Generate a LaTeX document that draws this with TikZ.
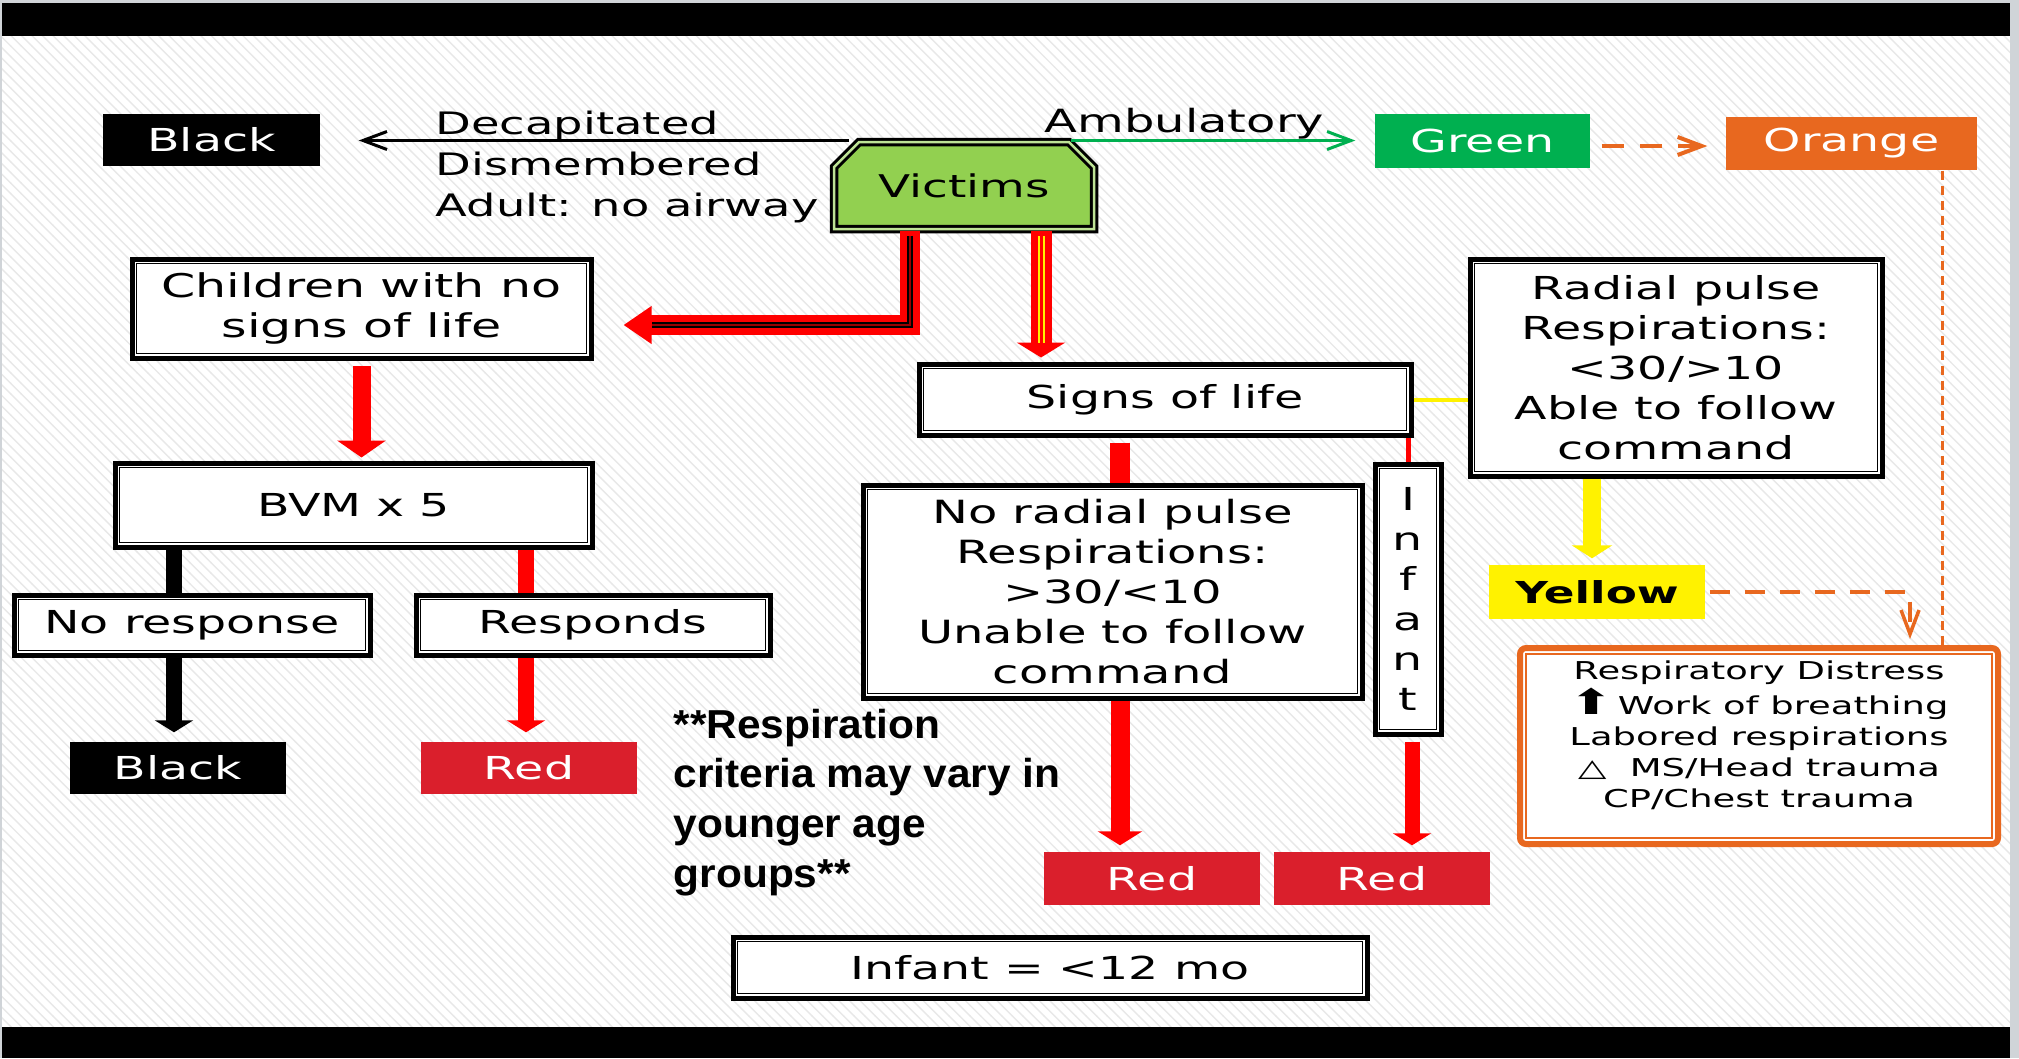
\documentclass[tikz,border=0pt]{standalone}
\usepackage{fontspec}
\setmainfont[FakeStretch=1.5]{DejaVu Sans}
\newfontfamily\notefont[FakeStretch=1.05]{Liberation Sans}
\usetikzlibrary{arrows.meta,shapes.misc,patterns}

\definecolor{tgreen}{HTML}{00B050}
\definecolor{vgreen}{HTML}{92D050}
\definecolor{torange}{HTML}{E8681F}
\definecolor{tred}{HTML}{DA1F2C}
\definecolor{edge}{HTML}{D0D4D8}

\tikzset{
  tag/.style={inner sep=0pt, minimum width=21.6mm, minimum height=5.3mm, text=white, font=\fontsize{9}{11}\selectfont},
  frame/.style={draw=black, line width=0.5mm, fill=white, inner sep=0pt, align=center, font=\fontsize{9}{11.4}\selectfont},
  victim/.style={chamfered rectangle, chamfered rectangle corners={north west,north east},
    chamfered rectangle xsep=2.4mm, chamfered rectangle ysep=1.3mm,
    draw=black, line width=0.3mm, double=vgreen!60!white, double distance=0.25mm, fill=vgreen,
    inner sep=0pt, minimum width=26mm, minimum height=8.7mm, font=\fontsize{8.9}{11}\selectfont},
  warn/.style={draw=torange, line width=0.6mm, rounded corners=0.6mm, fill=white, inner sep=0pt,
    align=center, font=\fontsize{7}{8.8}\selectfont},
  chev/.tip={Straight Barb[length=2.4mm,width=1.8mm]}
}

\begin{document}
\begin{tikzpicture}[x=0.1mm, y=-0.1mm]
\useasboundingbox (0,0) rectangle (2019,1058);
% slide background
\fill[white] (0,0) rectangle (2019,1058);
\fill[pattern=north west lines, pattern color=black!9] (2,36) rectangle (2010,1027);
\fill[black] (2,3) rectangle (2010,36);
\fill[black] (2,1027) rectangle (2010,1058);
\fill[edge] (2010,0) rectangle (2019,1058);
\fill[edge] (0,0) rectangle (2019,3);
\fill[edge] (0,0) rectangle (2,1058);

% top row
\node[tag, fill=black, minimum width=21.7mm, minimum height=5.2mm] (topblack) at (211.5,140) {Black};
\node[victim] (victims) at (964,185.5) {Victims};
\node[tag, fill=tgreen, minimum width=21.5mm, minimum height=5.4mm] (green) at (1482.5,141) {Green};
\node[tag, fill=torange, minimum width=25.1mm] (orange) at (1851.5,143.5) {Orange};
\node[anchor=north west, inner sep=0pt, align=left, font=\fontsize{8.8}{11.7}\selectfont] (cuts) at (435,110)
  {Decapitated\\Dismembered\\Adult: no airway};
\node[anchor=base west, inner sep=0pt, font=\fontsize{9.1}{11}\selectfont] (amb) at (1044,132) {Ambulatory};

% left branch
\node[frame, minimum width=45.9mm, minimum height=9.9mm, font=\fontsize{9.3}{11.4}\selectfont] (kids) at (361.5,308.5) {Children with no\\signs of life};
\node[frame, minimum width=47.7mm, minimum height=8.4mm] (bvm) at (353.5,505) {BVM x 5};
\node[frame, minimum width=35.6mm, minimum height=6mm] (nores) at (192,625) {No response};
\node[frame, minimum width=35.4mm, minimum height=6mm] (resp) at (593,625) {Responds};
\node[tag, fill=black, minimum height=5.2mm] (blackbot) at (178,768) {Black};
\node[tag, fill=tred, minimum height=5.2mm] (redbot) at (529,768) {Red};

% right branch
\node[frame, minimum width=49.2mm, minimum height=7.1mm] (signs) at (1165,399.5) {Signs of life};
\node[frame, minimum width=41.2mm, minimum height=21.7mm] (radial) at (1676,367.5)
  {Radial pulse\\Respirations:\\<30/>10\\Able to follow\\command};
\node[frame, minimum width=49.9mm, minimum height=21.3mm, font=\fontsize{9.1}{11.4}\selectfont] (noradial) at (1112.5,591.5)
  {No radial pulse\\Respirations:\\>30/<10\\Unable to follow\\command};
\node[frame, minimum width=6.6mm, minimum height=27mm] (infant) at (1408,599) {I\\n\\f\\a\\n\\t};
\node[tag, fill=tred] (redmid) at (1152,878.5) {Red};
\node[tag, fill=tred] (redright) at (1382,878.5) {Red};
\node[frame, minimum width=63.4mm, minimum height=6.1mm] (age) at (1050,967.5) {Infant = <12 mo};
\node[tag, fill=yellow, text=black, minimum height=5.4mm, font=\fontsize{8.6}{11}\selectfont\bfseries] (yellow) at (1597,592) {Yellow};
\node[warn, minimum width=47.8mm, minimum height=19.6mm] (distress) at (1759,746)
  {Respiratory Distress\\{\fontsize{10}{8.8}\selectfont ⬆}\,Work of breathing\hspace*{5mm}\\Labored respirations\\△\ \ MS/Head trauma\hspace*{5mm}\\CP/Chest trauma\\[-2pt]\mbox{}};
\node[anchor=north west, inner sep=0pt, align=left, font=\notefont\bfseries\fontsize{11.5}{14.2}\selectfont] (note) at (673,708)
  {**Respiration\\criteria may vary in\\younger age\\groups**};

% inner lines of the framed boxes
\foreach \n in {kids,bvm,nores,resp,signs,radial,noradial,infant,age}
  \draw[line width=0.15mm] ([shift={(7,7)}]\n.north west) rectangle ([shift={(-7,-7)}]\n.south east);
\draw[torange, line width=0.2mm] ([shift={(9,9)}]distress.north west) rectangle ([shift={(-9,-9)}]distress.south east);

% connectors
\draw[line width=0.3mm, -chev, shorten >=3.8mm] ([xshift=-11.5mm]victims.north) -- (topblack.east |- victims.north);
\draw[tgreen, line width=0.3mm, -chev, shorten >=1.9mm] ([xshift=10.7mm]victims.north) -- (green.west |- victims.north);
\draw[torange, line width=0.4mm, dash pattern=on 2.2mm off 1.6mm, -chev, shorten <=1.1mm, shorten >=1.8mm]
  ([yshift=-0.5mm]green.east) -- ([yshift=-0.5mm]green.east -| orange.west);
\draw[torange, line width=0.3mm, dash pattern=on 0.9mm off 0.6mm]
  ([xshift=9.05mm]orange.south) -- ([xshift=9.05mm]orange.south |- distress.north);
\draw[torange, line width=0.35mm, dash pattern=on 2mm off 1.5mm, -chev, shorten <=0.4mm, shorten >=0.6mm]
  (yellow.east) -| ([xshift=15.1mm]distress.north);

\draw[red, line width=2mm, -{Triangle[width=3.6mm,length=2.8mm]}, shorten >=3mm]
  ([xshift=-5.4mm]victims.south) |- ([yshift=-1.65mm]kids.east);
\draw[black, line width=0.2mm, double=red!60!black, double distance=0.25mm, shorten >=5.8mm, shorten <=0.5mm]
  ([xshift=-5.4mm]victims.south) |- ([yshift=-1.65mm]kids.east);
\draw[red, line width=2.1mm, -{Triangle[width=4.8mm,length=1.5mm]}, shorten >=0.4mm]
  ([xshift=7.7mm]victims.south) -- ([xshift=7.7mm]victims.south |- signs.north);
\draw[yellow, line width=0.2mm, double=red, double distance=0.3mm, shorten <=0.5mm, shorten >=1.9mm]
  ([xshift=7.7mm]victims.south) -- ([xshift=7.7mm]victims.south |- signs.north);

\draw[red, line width=1.8mm, -{Triangle[width=4.8mm,length=1.7mm]}, shorten <=0.5mm, shorten >=0.3mm] (kids.south) -- (kids.south |- bvm.north);
\draw[line width=1.6mm] ([xshift=-1.8mm]nores.north) -- ([xshift=-1.8mm]nores.north |- bvm.south);
\draw[red, line width=1.6mm] ([xshift=-6.7mm]resp.north) -- ([xshift=-6.7mm]resp.north |- bvm.south);
\draw[line width=1.6mm, -{Triangle[width=3.8mm,length=1.2mm]}, shorten >=0.9mm]
  ([xshift=-1.8mm]nores.south) -- ([xshift=-1.8mm]nores.south |- blackbot.north);
\draw[red, line width=1.6mm, -{Triangle[width=3.8mm,length=1.2mm]}, shorten >=0.9mm]
  ([xshift=-6.7mm]resp.south) -- ([xshift=-6.7mm]resp.south |- redbot.north);

\draw[red, line width=2mm, shorten <=0.5mm] ([xshift=0.75mm]noradial.north |- signs.south) -- ([xshift=0.75mm]noradial.north);
\draw[red, line width=0.5mm] (infant.north |- signs.south) -- (infant.north);
\draw[yellow, line width=0.4mm] (signs.east) -- (radial.west |- signs.east);
\draw[red, line width=1.9mm, -{Triangle[width=4.4mm,length=1.4mm]}, shorten >=0.6mm]
  ([xshift=0.75mm]noradial.south) -- ([xshift=0.75mm]noradial.south |- redmid.north);
\draw[red, line width=1.5mm, -{Triangle[width=3.8mm,length=1.2mm]}, shorten <=0.5mm, shorten >=0.6mm]
  ([xshift=0.4mm]infant.south) -- ([xshift=0.4mm]infant.south |- redright.north);
\draw[yellow, line width=1.8mm, -{Triangle[width=4mm,length=1.3mm]}, shorten >=0.6mm]
  ([xshift=-0.5mm]yellow.north |- radial.south) -- ([xshift=-0.5mm]yellow.north);
\end{tikzpicture}
\end{document}
